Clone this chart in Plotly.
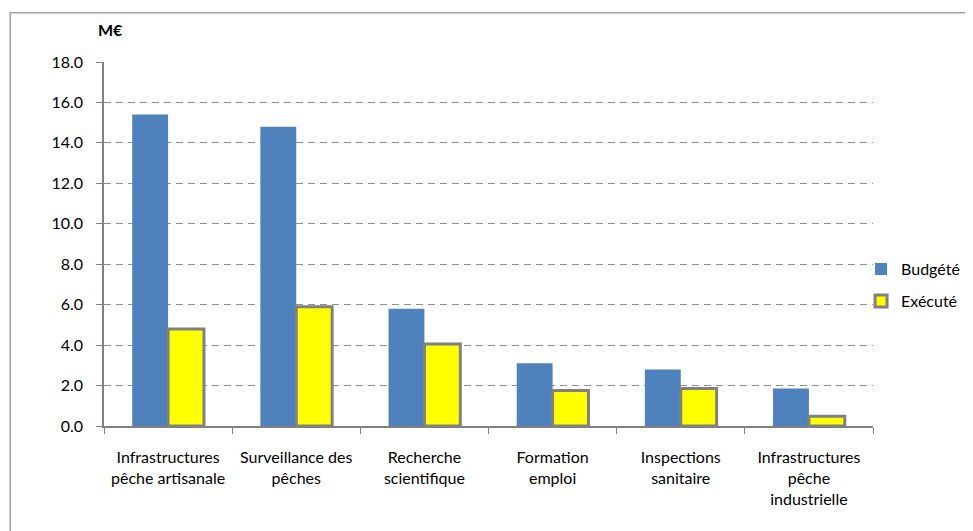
import plotly.graph_objects as go

categories = [
    "Infrastructures<br>pêche artisanale",
    "Surveillance des<br>pêches",
    "Recherche<br>scientifique",
    "Formation<br>emploi",
    "Inspections<br>sanitaire",
    "Infrastructures<br>pêche<br>industrielle",
]
budgete = [15.4, 14.8, 5.8, 3.1, 2.8, 1.85]
execute = [4.8, 5.9, 4.05, 1.75, 1.85, 0.48]

font = "Lato, 'Open Sans', sans-serif"

fig = go.Figure()
fig.add_trace(go.Bar(
    x=categories, y=budgete, name="Budgété",
    marker=dict(color="#4F81BD", line=dict(width=0)),
    legendgroup="a",
))
fig.add_trace(go.Bar(
    x=categories, y=execute, name="Exécuté",
    marker=dict(color="#FFFF00", line=dict(color="#808080", width=3)),
    legendgroup="b",
))

# page body adds 8px offset, so the figure is sized to fit the window
fig.update_layout(
    width=965, height=523,
    margin=dict(l=96, r=100, t=54, b=105, autoexpand=False),
    paper_bgcolor="white", plot_bgcolor="white",
    barmode="group", bargap=0.44, bargroupgap=0,
    font=dict(family=font, size=16, color="#000000"),
    legend=dict(xref="container", yref="container", x=0.884, y=0.47,
                xanchor="left", yanchor="middle",
                bgcolor="rgba(0,0,0,0)",
                font=dict(size=16), tracegroupgap=8, itemwidth=30),
    shapes=[dict(type="rect", xref="paper", yref="paper",
                 x0=-0.122, x1=1.3, y0=-0.5, y1=1.135,
                 line=dict(color="#A0A0A0", width=1.5))],
    annotations=[dict(text="<b>M€</b>", xref="paper", yref="paper",
                      x=-0.011, y=1.088, xanchor="left", yanchor="middle",
                      showarrow=False, font=dict(size=16))],
)
fig.update_xaxes(
    showline=True, linecolor="#808080", linewidth=1.5,
    ticks="outside", tickson="boundaries", tickcolor="#808080", ticklen=6,
    tickfont=dict(size=16), tickangle=0, ticklabelstandoff=16,
    automargin=False,
)
fig.update_yaxes(
    range=[0, 18], dtick=2, tickformat=".1f",
    showline=True, linecolor="#808080", linewidth=1.5,
    ticks="outside", tickcolor="#808080", ticklen=6,
    showgrid=True, gridcolor="#909090", griddash="7px,5px", gridwidth=1.2,
    zeroline=False, tickfont=dict(size=16), ticklabelstandoff=10,
    automargin=False,
)

fig.write_html("out.html")
